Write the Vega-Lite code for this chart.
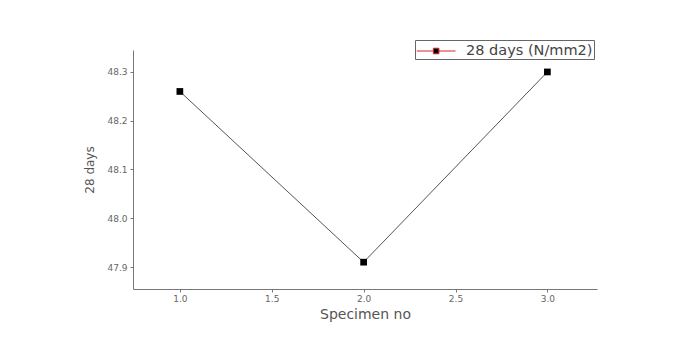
{
  "$schema": "https://vega.github.io/schema/vega-lite/v6.json",
  "autosize": {"type": "none"},
  "width": 464,
  "height": 239,
  "padding": {"left": 133, "top": 50, "right": 90, "bottom": 57},
  "background": "white",
  "config": {
    "view": {"stroke": null},
    "font": "DejaVu Sans",
    "axis": {
      "grid": false,
      "domainColor": "#777",
      "tickColor": "#777",
      "labelColor": "#666",
      "titleColor": "#555",
      "labelFontSize": 9,
      "titleFontSize": 12,
      "titleFontWeight": "normal",
      "tickSize": 3
    }
  },
  "data": {
    "values": [
      {"specimen": 1, "strength": 48.26, "series": "28 days (N/mm2)"},
      {"specimen": 2, "strength": 47.91, "series": "28 days (N/mm2)"},
      {"specimen": 3, "strength": 48.30, "series": "28 days (N/mm2)"}
    ]
  },
  "encoding": {
    "x": {
      "field": "specimen",
      "type": "quantitative",
      "scale": {"domain": [0.745, 3.27], "nice": false, "zero": false},
      "axis": {"values": [1, 1.5, 2, 2.5, 3], "format": ".1f", "title": "Specimen no", "titlePadding": 4, "labelPadding": 2, "titleFontSize": 14, "titleFontWeight": 500}
    },
    "y": {
      "field": "strength",
      "type": "quantitative",
      "scale": {"domain": [47.855, 48.345], "nice": false, "zero": false},
      "axis": {"values": [47.9, 48.0, 48.1, 48.2, 48.3], "format": ".1f", "title": "28 days", "titlePadding": 10, "labelPadding": 3}
    }
  },
  "layer": [
    {
      "mark": {"type": "line", "color": "#555", "strokeWidth": 1}
    },
    {
      "mark": {"type": "point", "shape": "square", "filled": true, "size": 45, "opacity": 1},
      "encoding": {
        "fill": {
          "field": "series",
          "type": "nominal",
          "scale": {"range": ["#000000"]},
          "legend": {
            "title": null,
            "orient": "none",
            "legendX": 282,
            "legendY": -10,
            "direction": "vertical",
            "strokeColor": "#666",
            "padding": 1,
            "symbolType": "M-1,0H0.8M1.4,0H3.2M0.8,-0.3H1.4V0.3H0.8Z",
            "symbolSize": 340,
            "symbolStrokeColor": "#d22",
            "symbolStrokeWidth": 1,
            "labelFontSize": 14.5,
            "labelColor": "#444",
            "labelOffset": 30
          }
        }
      }
    }
  ]
}
